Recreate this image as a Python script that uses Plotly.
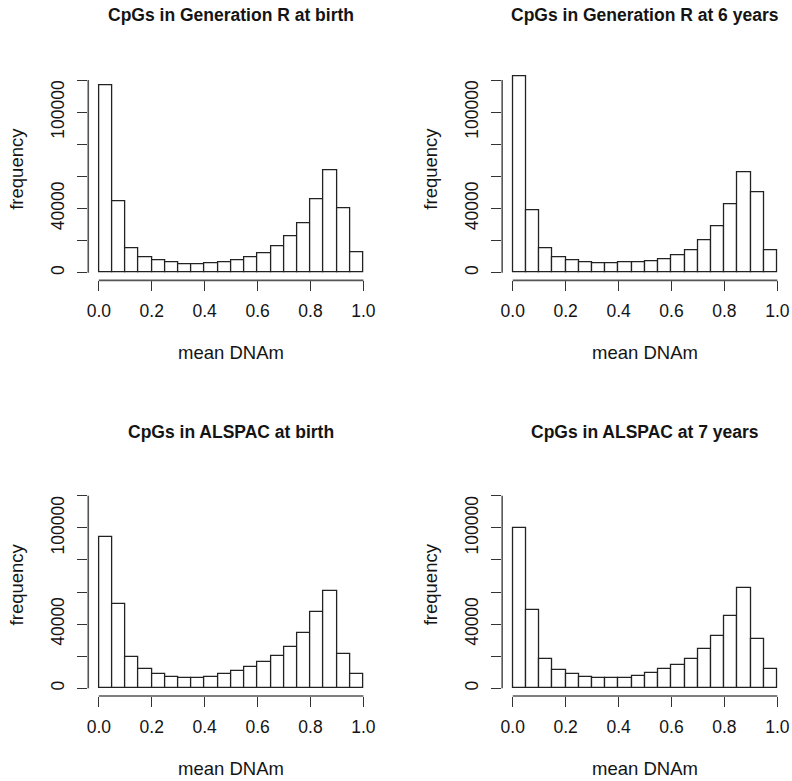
import plotly.graph_objects as go

# Histogram bins of mean DNA methylation (20 bins of width 0.05 over 0..1)
bin_edges = [round(i * 0.05, 2) for i in range(21)]
bin_centers = [round((a + b) / 2, 3) for a, b in zip(bin_edges[:-1], bin_edges[1:])]

genr_birth = [116500, 44400, 14900, 9500, 7500, 6400, 5400, 5400, 5800, 6400,
              7500, 9500, 12000, 16200, 22400, 30700, 45500, 63500, 39900, 12700]
genr_6y = [122100, 38800, 14900, 9500, 7500, 6200, 5600, 5600, 6200, 6400,
           7100, 8500, 10800, 14100, 20300, 29100, 42800, 62300, 50000, 13900]
alspac_birth = [94300, 52700, 19500, 11800, 8700, 7300, 6400, 6400, 7100, 8700,
                10800, 13100, 16200, 20100, 25900, 34500, 47700, 60800, 21600, 8700]
alspac_7y = [99900, 48600, 18300, 11400, 8700, 7300, 6400, 6400, 6400, 7700,
             9800, 11800, 14700, 18500, 24300, 32600, 45300, 62700, 30500, 11800]

titles = ["CpGs in Generation R at birth", "CpGs in Generation R at 6 years",
          "CpGs in ALSPAC at birth", "CpGs in ALSPAC at 7 years"]
series = [genr_birth, genr_6y, alspac_birth, alspac_7y]

x_tick_vals = [0.0, 0.2, 0.4, 0.6, 0.8, 1.0]
y_tick_vals = [0, 20000, 40000, 60000, 80000, 100000, 120000]
y_tick_text = ["0", "", "40000", "", "", "100000", ""]

W, H = 792, 781
FONT = "Liberation Sans, Arial, Helvetica, sans-serif"
FS_TICK = 17.5
FS_LAB = 18.5
FS_TITLE = 17.5
TXT = "#141414"

# panel plot regions in pixels: (left, right, top, bottom)
panels = [
    (86.7, 373.9, 72.3, 280.4),
    (502.7, 789.9, 72.3, 280.4),
    (86.7, 373.9, 488.0, 696.0),
    (502.7, 789.9, 488.0, 696.0),
]

fig = go.Figure()
layout = dict(
    width=W, height=H,
    margin=dict(l=0, r=0, t=0, b=0),
    paper_bgcolor="white", plot_bgcolor="white",
    showlegend=False, bargap=0,
    font=dict(family=FONT, size=FS_TICK, color=TXT),
)
annotations = []
shapes = []

for i, (vals, title, (l, r, t, b)) in enumerate(zip(series, titles, panels)):
    n = "" if i == 0 else str(i + 1)
    xa, ya = "x" + n, "y" + n
    fig.add_trace(go.Bar(
        x=bin_centers, y=vals, width=0.05, xaxis=xa, yaxis=ya,
        marker=dict(color="white", line=dict(color="#222", width=1.3)),
        hoverinfo="skip",
    ))
    layout["xaxis" + n] = dict(
        domain=[l / W, r / W], anchor=ya, range=[-0.04, 1.04],
        tickvals=x_tick_vals, tickformat=".1f",
        ticks="outside", ticklen=10, tickwidth=1.3, tickcolor="#333",
        showline=False, showgrid=False, zeroline=False,
        ticklabelstandoff=5,
        tickfont=dict(size=FS_TICK, color=TXT),
    )
    layout["yaxis" + n] = dict(
        domain=[1 - b / H, 1 - t / H], anchor=xa, range=[-4800, 124800],
        tickvals=y_tick_vals, ticktext=y_tick_text, tickangle=-90,
        ticks="outside", ticklen=10, tickwidth=1.3, tickcolor="#333",
        showline=False, showgrid=False, zeroline=False,
        ticklabelstandoff=6,
        tickfont=dict(size=FS_TICK, color=TXT),
    )
    # axis lines spanning only the tick range
    shapes.append(dict(type="line", xref=xa, yref=ya + " domain",
                       x0=0, x1=1, y0=0, y1=0,
                       line=dict(color="#555", width=1.6)))
    shapes.append(dict(type="line", xref=xa + " domain", yref=ya,
                       x0=0, x1=0, y0=0, y1=120000,
                       line=dict(color="#555", width=1.6)))
    cx = (l + r) / 2 / W
    top_off = 0 if i < 2 else 416.7
    annotations.append(dict(text="<b>" + title + "</b>", xref="paper", yref="paper",
                            x=cx, y=1 - (15 + top_off) / H, showarrow=False,
                            xanchor="center", yanchor="middle",
                            font=dict(size=FS_TITLE, family=FONT, color=TXT)))
    annotations.append(dict(text="mean DNAm", xref="paper", yref="paper",
                            x=cx, y=1 - (b + 72.3) / H, showarrow=False,
                            xanchor="center", yanchor="middle",
                            font=dict(size=FS_LAB, family=FONT, color=TXT)))
    annotations.append(dict(text="frequency", xref="paper", yref="paper",
                            x=(l - 71.7) / W, y=1 - ((t + b) / 2 - 7.5) / H,
                            showarrow=False, textangle=-90,
                            xanchor="center", yanchor="middle",
                            font=dict(size=FS_LAB, family=FONT, color=TXT)))

layout["annotations"] = annotations
layout["shapes"] = shapes
fig.update_layout(**layout)
fig.write_html("out.html")
